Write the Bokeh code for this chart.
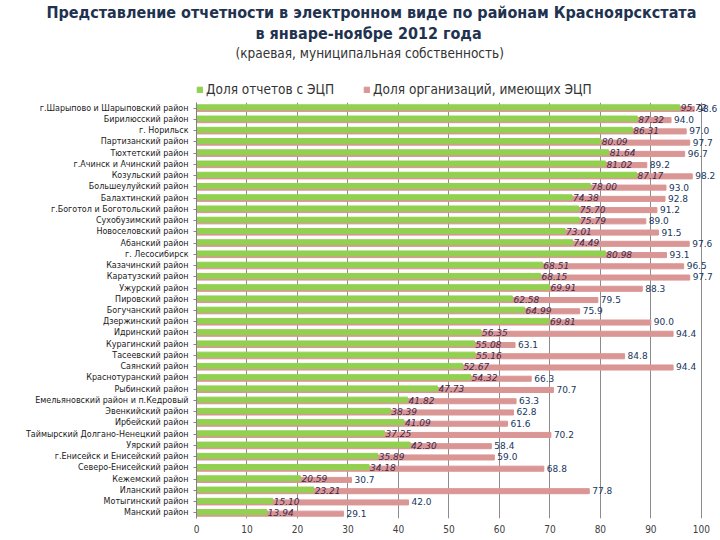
from bokeh.plotting import figure
from bokeh.models import (FactorRange, ColumnDataSource, Legend, LegendItem,
                          FixedTicker, Range1d, Title)
from bokeh.layouts import column
from bokeh.transform import dodge
from bokeh.core.properties import value
from bokeh.embed import file_html
from bokeh.resources import INLINE

categories = [
    "г.Шарыпово и Шарыповский район",
    "Бирилюсский район",
    "г. Норильск",
    "Партизанский район",
    "Тюхтетский район",
    "г.Ачинск и Ачинский район",
    "Козульский район",
    "Большеулуйский район",
    "Балахтинский район",
    "г.Боготол и Боготольский район",
    "Сухобузимский район",
    "Новоселовский район",
    "Абанский район",
    "г. Лесосибирск",
    "Казачинский район",
    "Каратузский район",
    "Ужурский район",
    "Пировский район",
    "Богучанский район",
    "Дзержинский район",
    "Идринский район",
    "Курагинский район",
    "Тасеевский район",
    "Саянский район",
    "Краснотуранский район",
    "Рыбинский район",
    "Емельяновский район и п.Кедровый",
    "Эвенкийский район",
    "Ирбейский район",
    "Таймырский Долгано-Ненецкий район",
    "Уярский район",
    "г.Енисейск и Енисейский район",
    "Северо-Енисейский район",
    "Кежемский район",
    "Иланский район",
    "Мотыгинский район",
    "Манский район",
]

reports_share = [95.72, 87.32, 86.31, 80.09, 81.64, 81.02, 87.17, 78.00, 74.38, 75.70,
                 75.79, 73.01, 74.49, 80.98, 68.51, 68.15, 69.91, 62.58, 64.99, 69.81,
                 56.35, 55.08, 55.16, 52.67, 54.32, 47.73, 41.82, 38.39, 41.09, 37.25,
                 42.30, 35.89, 34.18, 20.59, 23.21, 15.10, 13.94]

orgs_share = [98.6, 94.0, 97.0, 97.7, 96.7, 89.2, 98.2, 93.0, 92.8, 91.2,
              89.0, 91.5, 97.6, 93.1, 96.5, 97.7, 88.3, 79.5, 75.9, 90.0,
              94.4, 63.1, 84.8, 94.4, 66.3, 70.7, 63.3, 62.8, 61.6, 70.2,
              58.4, 59.0, 68.8, 30.7, 77.8, 42.0, 29.1]

x_ticks = [0, 10, 20, 30, 40, 50, 60, 70, 80, 90, 100]

series_names = ["Доля отчетов с ЭЦП", "Доля организаций, имеющих ЭЦП"]
title_line1 = "Представление отчетности в электронном виде по районам Красноярскстата"
title_line2 = "в январе-ноябре 2012 года"
subtitle = "(краевая, муниципальная собственность)"

GREEN = "#92d050"
PINK = "#da9694"
TITLE_COLOR = "#1f3350"

# ---------------- header: titles + legend ----------------
header = figure(width=720, height=102, x_range=Range1d(0, 1), y_range=Range1d(0, 1),
                output_backend="svg", toolbar_location=None,
                x_axis_location=None, y_axis_location=None,
                min_border_left=0, min_border_right=0, min_border_top=0,
                min_border_bottom=0)
header.outline_line_color = None
header.grid.grid_line_color = None
header.border_fill_color = "white"
header.background_fill_color = "white"

# titles, nearest to the frame first
header.add_layout(Title(text=subtitle, align="left", offset=39, standoff=0,
                        text_font="DejaVu Sans Condensed", text_font_size="13.5px",
                        text_font_style="normal", text_color="#333333"), "above")
header.add_layout(Title(text=title_line2, align="left", offset=59, standoff=0,
                        text_font="DejaVu Sans Condensed", text_font_size="16px",
                        text_font_style="bold", text_color=TITLE_COLOR), "above")
header.add_layout(Title(text=title_line1, align="left", offset=-150, standoff=0,
                        text_font="DejaVu Sans Condensed", text_font_size="16px",
                        text_font_style="bold", text_color=TITLE_COLOR), "above")

# legend keys (kept outside the visible range of the header)
key_green = header.hbar(y=[-5], left=[0], right=[0.1], height=0.1, color=GREEN)
key_pink = header.hbar(y=[-5], left=[0], right=[0.1], height=0.1, color=PINK)
legend = Legend(items=[LegendItem(label=series_names[0], renderers=[key_green]),
                       LegendItem(label=series_names[1], renderers=[key_pink])],
                orientation="horizontal", location=(0, 5),
                background_fill_alpha=0, border_line_color=None,
                glyph_width=7, glyph_height=7, label_standoff=3, spacing=29,
                padding=0, margin=0, label_height=14,
                label_text_font="DejaVu Sans Condensed", label_text_font_size="13.5px",
                label_text_color="#333333")
header.add_layout(legend)

# ---------------- main chart ----------------
src = ColumnDataSource(dict(
    cat=categories,
    rep=reports_share,
    org=orgs_share,
    rep_lbl=[f"{v:.2f}" for v in reports_share],
    org_lbl=[f"{v:.1f}" for v in orgs_share],
))

p = figure(width=720, height=438,
           y_range=FactorRange(factors=categories[::-1]),
           x_range=(0, 103.4),
           output_backend="svg", toolbar_location=None,
           min_border_left=196, min_border_right=2,
           min_border_top=0, min_border_bottom=22)
p.outline_line_color = None
p.background_fill_color = "white"
p.border_fill_color = "white"

pink = p.hbar(y=dodge("cat", -0.07, range=p.y_range), left=0, right="org",
              height=0.45, color=PINK, source=src)
green = p.hbar(y=dodge("cat", 0.07, range=p.y_range), left=0, right="rep",
               height=0.45, color=GREEN, source=src)

p.text(x="rep", y=dodge("cat", 0.02, range=p.y_range), text="rep_lbl", source=src,
       x_offset=1, text_align="left", text_baseline="middle",
       text_font=value("DejaVu Sans"), text_font_size="9px",
       text_font_style="italic", text_color="#3c2a4d")
p.text(x="org", y=dodge("cat", -0.02, range=p.y_range), text="org_lbl", source=src,
       x_offset=3, text_align="left", text_baseline="middle",
       text_font=value("DejaVu Sans"), text_font_size="9px",
       text_color="#17365d")

# grid
p.ygrid.grid_line_color = None
p.xgrid.ticker = FixedTicker(ticks=x_ticks)
p.xgrid.grid_line_color = "#8c8c8c"
p.xgrid.grid_line_width = 1

# axes
p.xaxis.ticker = FixedTicker(ticks=x_ticks)
p.xaxis.axis_line_color = None
p.xaxis.major_tick_out = 0
p.xaxis.major_tick_in = 0
p.xaxis.minor_tick_line_color = None
p.xaxis.major_label_standoff = 6
p.xaxis.major_label_text_font = "DejaVu Sans Condensed"
p.xaxis.major_label_text_font_size = "10px"
p.xaxis.major_label_text_color = "#404040"

p.yaxis.axis_line_color = "#7f7f7f"
p.yaxis.major_tick_out = 3
p.yaxis.major_tick_in = 0
p.yaxis.major_tick_line_color = "#a070a8"
p.yaxis.major_label_standoff = 5
p.yaxis.major_label_text_font = "DejaVu Sans"
p.yaxis.major_label_text_font_size = "8px"
p.yaxis.major_label_text_color = "#1a1a1a"

layout = column(header, p, spacing=0)
open("out.html", "w").write(file_html(layout, INLINE))
